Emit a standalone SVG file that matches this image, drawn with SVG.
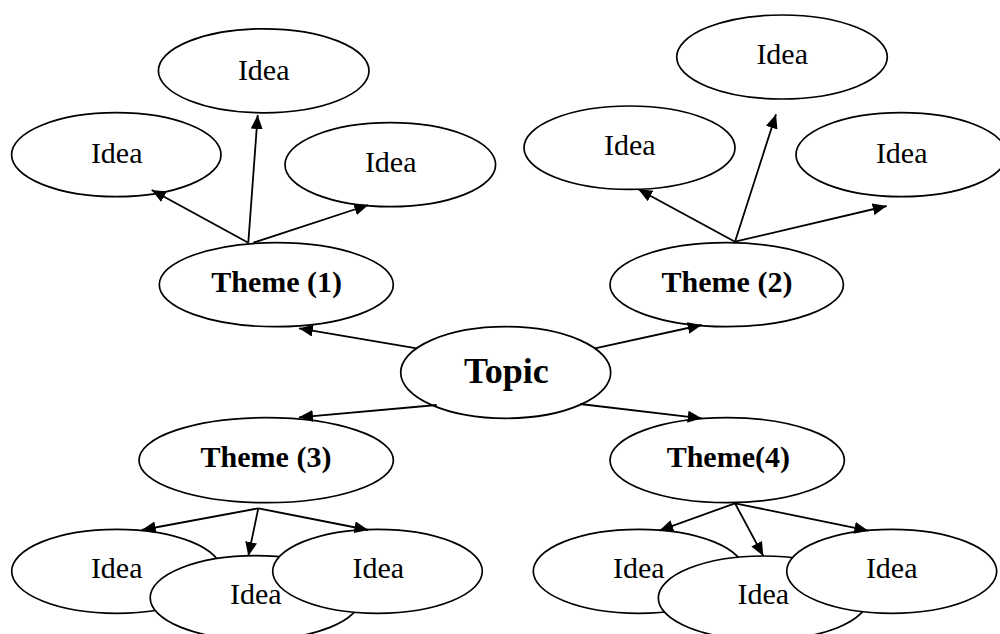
<svg xmlns="http://www.w3.org/2000/svg" width="1000" height="634" viewBox="0 0 1000 634">
<style>
.n{fill:#fff;stroke:#000;stroke-width:1.7}
.t{font-family:"Liberation Serif","Times New Roman",serif;font-size:30px;text-anchor:middle;fill:#000}
.b{font-weight:bold}
.c line{stroke:#000;stroke-width:1.8;marker-end:url(#ah)}
</style>
<defs>
<marker id="ah" viewBox="0 0 14 12" refX="14" refY="6" markerWidth="14" markerHeight="12" markerUnits="userSpaceOnUse" orient="auto">
<path d="M0,0 L14,6 L0,12 Z" fill="#000"/>
</marker>
</defs>
<rect width="1000" height="634" fill="#fff"/>
<g id="idea-a1"><ellipse class="n" cx="263.7" cy="70.8" rx="105.3" ry="42"/><text class="t" x="263.7" y="79.5">Idea</text></g>
<g id="idea-a2"><ellipse class="n" cx="116.3" cy="154.7" rx="104.7" ry="42"/><text class="t" x="116.7" y="162.5">Idea</text></g>
<g id="idea-a3"><ellipse class="n" cx="390.3" cy="164.7" rx="105.3" ry="42"/><text class="t" x="390.7" y="171.5">Idea</text></g>
<g id="theme1"><ellipse class="n" cx="276.3" cy="284.7" rx="117" ry="42"/><text class="t b" x="276.7" y="292">Theme (1)</text></g>
<g id="idea-b1"><ellipse class="n" cx="782" cy="57" rx="105.3" ry="42"/><text class="t" x="782.2" y="64">Idea</text></g>
<g id="idea-b2"><ellipse class="n" cx="629.5" cy="147.7" rx="105.5" ry="41.7"/><text class="t" x="629.8" y="154.5">Idea</text></g>
<g id="idea-b3"><ellipse class="n" cx="901.3" cy="154.7" rx="105.3" ry="42"/><text class="t" x="901.7" y="162.5">Idea</text></g>
<g id="theme2"><ellipse class="n" cx="726.7" cy="284.7" rx="116.7" ry="42"/><text class="t b" x="727" y="292">Theme (2)</text></g>
<g id="topic"><ellipse class="n" cx="505.7" cy="372.5" rx="105" ry="45.8"/><text class="t b" x="506.3" y="382.5" style="font-size:36px">Topic</text></g>
<g id="theme3"><ellipse class="n" cx="266.2" cy="460.2" rx="127.2" ry="42.5"/><text class="t b" x="266" y="467">Theme (3)</text></g>
<g id="theme4"><ellipse class="n" cx="727.2" cy="460.2" rx="117.2" ry="42.5"/><text class="t b" x="728.3" y="467">Theme(4)</text></g>
<g id="idea-c1"><ellipse class="n" cx="116.7" cy="571.3" rx="105" ry="42"/><text class="t" x="116.7" y="577.5">Idea</text></g>
<g id="idea-c2"><ellipse class="n" cx="255.5" cy="597.7" rx="105.3" ry="42"/><text class="t" x="255.8" y="603.5">Idea</text></g>
<g id="idea-c3"><ellipse class="n" cx="377.5" cy="571.3" rx="104.8" ry="42"/><text class="t" x="378.3" y="577.5">Idea</text></g>
<g id="idea-d1"><ellipse class="n" cx="638.8" cy="571.3" rx="105.5" ry="42"/><text class="t" x="638.8" y="577.5">Idea</text></g>
<g id="idea-d2"><ellipse class="n" cx="763.3" cy="598" rx="105" ry="42"/><text class="t" x="763.3" y="603.5">Idea</text></g>
<g id="idea-d3"><ellipse class="n" cx="891.7" cy="571.3" rx="105" ry="42"/><text class="t" x="891.7" y="577.5">Idea</text></g>
<g id="connectors" class="c">
<line x1="248.3" y1="242.7" x2="257.7" y2="115"/>
<line x1="248.3" y1="242.7" x2="151.7" y2="190"/>
<line x1="253.3" y1="242.7" x2="368.3" y2="205"/>
<line x1="735" y1="241.7" x2="776" y2="114.3"/>
<line x1="735" y1="241.7" x2="638.3" y2="189.3"/>
<line x1="735" y1="241.7" x2="886.7" y2="206"/>
<line x1="416.7" y1="348.3" x2="299" y2="328.3"/>
<line x1="436.7" y1="405" x2="299" y2="417.3"/>
<line x1="595" y1="348.3" x2="701.7" y2="325"/>
<line x1="580" y1="404" x2="701.7" y2="418.3"/>
<line x1="258.3" y1="508.3" x2="141.7" y2="530"/>
<line x1="258.3" y1="508.3" x2="248.3" y2="556"/>
<line x1="258.3" y1="508.3" x2="368.3" y2="530"/>
<line x1="735" y1="503.3" x2="659.3" y2="530.7"/>
<line x1="735" y1="503.3" x2="763.3" y2="556"/>
<line x1="735" y1="503.3" x2="868.3" y2="530.7"/>
</g>
</svg>
